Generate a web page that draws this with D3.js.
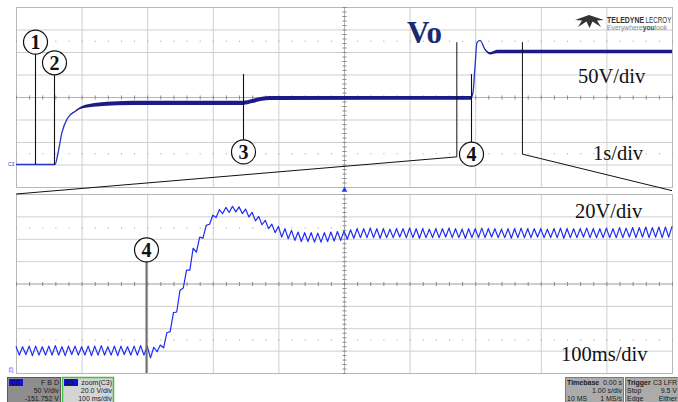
<!DOCTYPE html>
<html>
<head>
<meta charset="utf-8">
<script src="https://cdn.jsdelivr.net/npm/d3@7"></script>
<style>
  html, body { margin: 0; padding: 0; background: #fff; }
  svg { display: block; }
</style>
</head>
<body>
<svg id="scope" width="678" height="402"></svg>
<script>
// ---- Channel C3, full record: 1 s/div, 50 V/div ----
const topTime   = [0, 0.595, 0.64, 0.70, 0.79, 0.90, 1.00, 1.23, 1.54, 2.00, 3.46, 3.60, 3.75, 3.87, 6.93, 6.966, 6.997, 7.027, 7.073, 7.149, 7.226, 7.332, 10];
const topVolts  = [0, 0, 25, 71, 104, 118, 127, 133, 136, 137, 137, 141, 146, 148, 148, 160, 218, 271, 276, 256, 247, 251, 251];
const topRipple = [0, 0, 0, 0, 0, 1, 2.5, 4, 4.5, 4.5, 4.5, 4.5, 4.5, 4.5, 4, 0, 0, 0, 0, 1, 2.5, 4, 4];

// ---- Zoom Z3 of C3: 100 ms/div, 20 V/div, one sample every 5 ms ----
const zoomStep = 5;
const zoomVolts = [
  149,141,148.5,141.5,149,140.5,149,141,148.5,141,
  149,141,149.5,141,148.5,140.5,149,141.5,149,141,
  148.5,141,149,140.5,149,141,149.5,141,148.5,141,
  149,140.5,149,141.5,148.5,141,149,141,149.5,141,
  149,138.5,148,144,150,147.5,161,162,179,179.5,
  199,201,217,217,236.5,233,246.5,245.5,257,258,
  266,264,271,267.5,273,268.5,274,269,273.5,267.5,
  271.5,264.5,268.5,261,265,257.5,261.5,254,258,250.5,
  256,246.5,254,245,252.5,243.5,251,242.5,250.5,242.5,
  250.5,242,250,242,250.5,242.5,251,243,251.5,243.5,
  252,244.5,253,245.5,254,246,254,246,254.5,246,
  254,245.5,254,246,253.5,246,254,246.5,254,246,
  254.5,246,254,245.5,254,246,253.5,246,254,246,
  254,246.5,254.5,246,254,246,253.5,245.5,254,246,
  254,246,254.5,246,254,246.5,254,246,253.5,246,
  254,245.5,254,246,254.5,246,254,246,254,246.5,
  254,246,253.5,246,254,246,254.5,245.5,254,246,
  254,246,254,246.5,254.5,246,254,246,254,246,
  254.5,246,254,246,255,246,254.5,246.5,255,246,
  255,246.5,255.5,246,255,246.5,255.5,246,255.5,246.5,
  256
];

// zoom window on the full record (s)
const zoomStart = 6.72, zoomEnd = 7.72;

// numbered event markers on the full record: time (s), circle level (V), stem end (V)
const markers = [
  { n: "1", t: 0.29, c: 272, stem: 0 },
  { n: "2", t: 0.58, c: 226, stem: 0 },
  { n: "3", t: 3.46, c: 28,  stem: 201 },
  { n: "4", t: 6.93, c: 23,  stem: 201 }
];
const zoomMarker = { n: "4", t: 198, c: 235 };

// ---- layout ----
const svg = d3.select("#scope");
const L = 16, R = 672;
const xTop = d3.scaleLinear([0, 10], [L, R]);
const yTop = d3.scaleLinear([-50, 350], [187, 7]);
const xBot = d3.scaleLinear([0, 1000], [L, R]);
const yBot = d3.scaleLinear([125, 285], [373, 194]);

function grid(x, y, xDomainStep, yDomainStep, xMinor, yMinor, dotted) {
  const g = svg.append("g");
  const [x0, x1] = x.domain(), [y0, y1] = y.domain();
  const xs = d3.range(x0, x1 + 1e-9, xDomainStep);
  const ys = d3.range(y0, y1 + 1e-9, yDomainStep);
  g.selectAll(".vx").data(xs).join("line")
    .attr("x1", d => x(d) + 0.5).attr("x2", d => x(d) + 0.5)
    .attr("y1", y.range()[1]).attr("y2", y.range()[0])
    .attr("stroke", "#cfcfcf").attr("stroke-width", 1);
  g.selectAll(".hy").data(ys).join("line")
    .attr("y1", d => y(d) + 0.5).attr("y2", d => y(d) + 0.5)
    .attr("x1", x.range()[0]).attr("x2", x.range()[1])
    .attr("stroke", "#cfcfcf").attr("stroke-width", 1);
  // frame
  g.append("rect")
    .attr("x", x.range()[0] + 0.5).attr("y", y.range()[1] + 0.5)
    .attr("width", x.range()[1] - x.range()[0]).attr("height", y.range()[0] - y.range()[1])
    .attr("fill", "none").attr("stroke", "#b8b8b8");
  // centre axes, slightly darker, with minor ticks
  const cx = x((x0 + x1) / 2), cy = y((y0 + y1) / 2);
  g.append("line").attr("x1", x.range()[0]).attr("x2", x.range()[1])
    .attr("y1", cy + 0.5).attr("y2", cy + 0.5).attr("stroke", "#b4b4b4");
  g.append("line").attr("y1", y.range()[1]).attr("y2", y.range()[0])
    .attr("x1", cx + 0.5).attr("x2", cx + 0.5).attr("stroke", "#b4b4b4");
  g.selectAll(".tx").data(d3.range(x0, x1 + 1e-9, xMinor)).join("line")
    .attr("x1", d => x(d) + 0.5).attr("x2", d => x(d) + 0.5)
    .attr("y1", cy - 1.5).attr("y2", cy + 2.5)
    .attr("stroke", "#8a8a8a");
  g.selectAll(".ty").data(d3.range(y0, y1 + 1e-9, yMinor)).join("line")
    .attr("y1", d => y(d) + 0.5).attr("y2", d => y(d) + 0.5)
    .attr("x1", cx - 1.5).attr("x2", cx + 2.5)
    .attr("stroke", "#8a8a8a");
  // dotted reference rows
  dotted.forEach(v => {
    g.selectAll(null).data(d3.range(x0, x1 + 1e-9, xMinor)).join("rect")
      .attr("x", d => x(d)).attr("y", y(v))
      .attr("width", 1).attr("height", 1).attr("fill", "#9a9a9a");
  });
}

grid(xTop, yTop, 1, 50, 0.2, 10, [25, 275]);
grid(xBot, yBot, 100, 20, 20, 4, [155, 255]);

// ---- full record trace ----
const topData = topTime.map((t, i) => ({ t, v: topVolts[i], r: topRipple[i] }));
svg.append("path").datum(topData)
  .attr("d", d3.line().x(d => xTop(d.t)).y(d => yTop(d.v)).curve(d3.curveMonotoneX))
  .attr("fill", "none").attr("stroke", "#2a34c8").attr("stroke-width", 1.3);
svg.append("path").datum(topData)
  .attr("d", d3.area().x(d => xTop(d.t)).y0(d => yTop(d.v - d.r)).y1(d => yTop(d.v + d.r)).curve(d3.curveMonotoneX))
  .attr("fill", "#1a1a88").attr("stroke", "none");

// ---- zoomed trace ----
const zoomData = zoomVolts.map((v, i) => ({ t: i * zoomStep, v }));
svg.append("path").datum(zoomData)
  .attr("d", d3.line().x(d => xBot(d.t)).y(d => yBot(d.v)))
  .attr("fill", "none").attr("stroke", "#1f2cf2").attr("stroke-width", 1.2)
  .attr("stroke-linejoin", "round");

// ---- zoom bracket ----
const bracket = svg.append("g").attr("stroke", "#111").attr("stroke-width", 1).attr("fill", "none");
bracket.append("polyline").attr("points", [
  [xTop(zoomStart), yTop(272)], [xTop(zoomStart), yTop(17)], [xBot(0), yBot(285)]
].join(" "));
bracket.append("polyline").attr("points", [
  [xTop(zoomEnd), yTop(272)], [xTop(zoomEnd), yTop(23)], [xBot(1000), yBot(288)]
].join(" "));

// trigger marker
svg.append("path")
  .attr("d", d3.symbol(d3.symbolTriangle, 14)())
  .attr("transform", `translate(${xBot(500) + 0.5},${190})`)
  .attr("fill", "#2233ff");

// ---- numbered markers ----
const mk = svg.append("g");
const rad = 12;
markers.forEach(m => {
  const x = Math.round(xTop(m.t)) + 0.5, cy = yTop(m.c);
  const up = yTop(m.stem) < cy;
  mk.append("line").attr("x1", x).attr("x2", x)
    .attr("y1", up ? cy - rad : cy + rad).attr("y2", yTop(m.stem))
    .attr("stroke", "#111").attr("stroke-width", 1.1);
  mk.append("circle").attr("cx", x).attr("cy", cy).attr("r", rad)
    .attr("fill", "#fff").attr("stroke", "#111").attr("stroke-width", 1.2);
  mk.append("text").attr("x", x).attr("y", cy + 7).attr("text-anchor", "middle")
    .attr("font-family", "Liberation Serif, serif").attr("font-weight", "bold")
    .attr("font-size", 20).attr("fill", "#111").text(m.n);
});
{
  const x = Math.round(xBot(zoomMarker.t)) + 0.5, cy = yBot(zoomMarker.c);
  mk.append("line").attr("x1", x).attr("x2", x).attr("y1", cy + rad).attr("y2", yBot(125))
    .attr("stroke", "#6e6e6e").attr("stroke-width", 2);
  mk.append("circle").attr("cx", x).attr("cy", cy).attr("r", rad)
    .attr("fill", "#fff").attr("stroke", "#111").attr("stroke-width", 1.2);
  mk.append("text").attr("x", x).attr("y", cy + 7).attr("text-anchor", "middle")
    .attr("font-family", "Liberation Serif, serif").attr("font-weight", "bold")
    .attr("font-size", 20).attr("fill", "#111").text(zoomMarker.n);
}

// ---- scale labels ----
const serif = "Liberation Serif, Times New Roman, serif";
svg.append("text").attr("x", 407).attr("y", 43).attr("font-family", serif)
  .attr("font-weight", "bold").attr("font-size", 31).attr("fill", "#1b2a6e").text("Vo");
[
  { x: 578, y: 83, s: "50V/div" },
  { x: 593, y: 160, s: "1s/div" },
  { x: 575, y: 218, s: "20V/div" },
  { x: 561, y: 361, s: "100ms/div" }
].forEach(d => svg.append("text").attr("x", d.x).attr("y", d.y)
  .attr("font-family", serif).attr("font-size", 20.5).attr("fill", "#111").text(d.s));

// channel tags at the left edge
svg.append("text").attr("x", 8).attr("y", 166).attr("font-family", "Liberation Sans, sans-serif")
  .attr("font-size", 5).attr("fill", "#2233ff").text("C3");
svg.append("text").attr("transform", "translate(13,373) rotate(-90)").attr("font-family", "Liberation Sans, sans-serif")
  .attr("font-size", 5).attr("fill", "#2233ff").text("Z3");

// ---- maker logo (condensed lettering via horizontal scaling) ----
const logo = svg.append("g");
logo.append("path")
  .attr("d", "M575,20 L589,15 L604,20 L597,20.5 L601,27 L592.5,21.5 L589.5,28 L586.5,21.5 L578,27 L582,20.5 Z")
  .attr("fill", "#333");
logo.append("text").attr("transform", "translate(607,22.5) scale(0.82,1)")
  .attr("font-family", "Liberation Sans, sans-serif").attr("font-size", 8.5)
  .attr("font-weight", "bold").attr("fill", "#333").text("TELEDYNE");
logo.append("text").attr("transform", "translate(645.5,22.5) scale(0.74,1)")
  .attr("font-family", "Liberation Sans, sans-serif").attr("font-size", 8.5)
  .attr("fill", "#333").text("LECROY");
const ls = logo.append("text").attr("transform", "translate(607,29.5) scale(1.04,1)")
  .attr("font-family", "Liberation Sans, sans-serif").attr("font-size", 6.5).attr("fill", "#888");
ls.append("tspan").text("Everywhere");
ls.append("tspan").attr("font-weight", "bold").attr("fill", "#444").text("you");
ls.append("tspan").text("look");

// ---- status bar ----
const sans = "Liberation Sans, Arial, sans-serif";
function box(x, w, fill, stroke, rows, tag) {
  const g = svg.append("g");
  g.append("rect").attr("x", x + 0.5).attr("y", 377.5).attr("width", w).attr("height", 26)
    .attr("fill", fill).attr("stroke", stroke).attr("stroke-width", stroke === "#44c044" ? 1.5 : 1);
  if (tag) {
    g.append("rect").attr("x", x + 2).attr("y", 379).attr("width", 14).attr("height", 7).attr("fill", "#1010e0");
    g.append("text").attr("x", x + 4).attr("y", 385).attr("font-family", sans).attr("font-size", 6.5)
      .attr("fill", "#111").text(tag);
  }
  rows.forEach((r, i) => {
    const y = 385 + i * 8;
    if (r.l) g.append("text").attr("x", x + 2).attr("y", y).attr("font-family", sans)
      .attr("font-size", 7).attr("font-weight", r.b ? "bold" : "normal").attr("fill", "#1a1a1a").text(r.l);
    if (r.r) g.append("text").attr("x", x + w - 1).attr("y", y).attr("text-anchor", "end")
      .attr("font-family", sans).attr("font-size", 7).attr("fill", "#1a1a1a").text(r.r);
  });
}
box(7, 53, "#8e8e8e", "#5a5a5a", [{ r: "F B D" }, { r: "50 V/div" }, { r: "-151.752 V" }], "C3");
box(62, 51, "#d4d4d4", "#44c044", [{ r: "zoom(C3)" }, { r: "20.0 V/div" }, { r: "100 ms/div" }], "Z3");
box(565, 58, "#ababab", "#7a7a7a", [{ l: "Timebase", b: true, r: "0.00 s" }, { r: "1.00 s/div" }, { l: "10 MS", r: "1 MS/s" }]);
box(625, 53, "#ababab", "#7a7a7a", [{ l: "Trigger", b: true, r: "C3 LFR" }, { l: "Stop", r: "9.5 V" }, { l: "Edge", r: "Either" }]);
</script>
</body>
</html>
